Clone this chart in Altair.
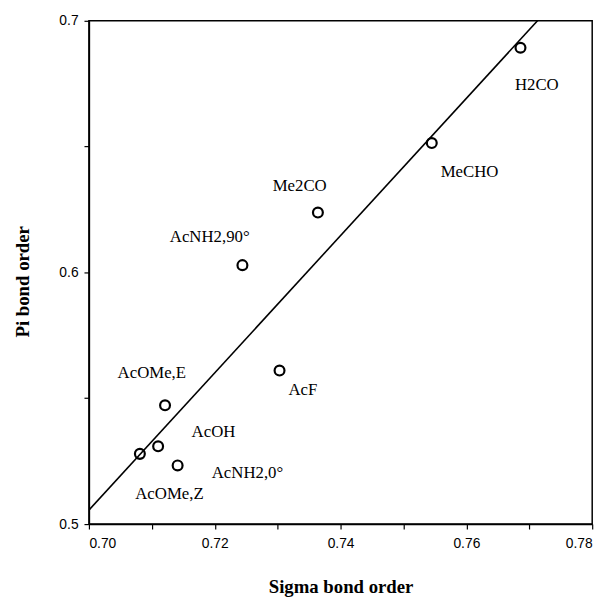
import altair as alt
import pandas as pd

names = ["H2CO", "MeCHO", "Me2CO", "AcNH2,90°", "AcF", "AcOMe,E", "AcOH", "AcOMe,Z", "AcNH2,0°"]
sigma = [0.7686, 0.7545, 0.7364, 0.7244, 0.7303, 0.7121, 0.7110, 0.7081, 0.7141]
pi = [0.6893, 0.6514, 0.6238, 0.6029, 0.5610, 0.5472, 0.5309, 0.5279, 0.5233]
label_x = [0.7712, 0.7605, 0.7335, 0.7192, 0.7340, 0.7100, 0.7198, 0.7128, 0.7252]
label_y = [0.6746, 0.6399, 0.6344, 0.6140, 0.5532, 0.5600, 0.5367, 0.5118, 0.5204]

x_ticks = [0.70, 0.71, 0.72, 0.73, 0.74, 0.75, 0.76, 0.77, 0.78]
y_ticks = [0.5, 0.55, 0.6, 0.65, 0.7]

df = pd.DataFrame({"name": names, "sigma": sigma, "pi": pi, "lx": label_x, "ly": label_y})

xscale = alt.Scale(domain=[0.70, 0.78], nice=False, zero=False)
yscale = alt.Scale(domain=[0.5, 0.7], nice=False, zero=False)

xaxis = alt.Axis(
    values=x_ticks,
    labelExpr="round(datum.value*100) % 2 == 0 ? format(datum.value, '.2f') : ''",
    title="Sigma bond order",
    titleX=255, titleY=63, titleBaseline="middle", titleAlign="center",
    labelPadding=8,
)
yaxis = alt.Axis(
    values=y_ticks,
    labelExpr="abs(datum.value*10 - round(datum.value*10)) < 0.001 ? format(datum.value, '.1f') : ''",
    title="Pi bond order",
    titleX=-67, titleY=264, titleBaseline="middle", titleAlign="center", titleAngle=270,
    labelPadding=6,
)

base = alt.Chart(df)

points = base.mark_point(shape="circle", filled=False, color="black", size=100, strokeWidth=2.2, opacity=1).encode(
    x=alt.X("sigma:Q", scale=xscale, axis=xaxis),
    y=alt.Y("pi:Q", scale=yscale, axis=yaxis),
)

line = base.transform_regression("sigma", "pi", extent=[0.70, 0.78]).mark_line(
    clip=True, color="black", strokeWidth=1.6
).encode(
    x=alt.X("sigma:Q", scale=xscale),
    y=alt.Y("pi:Q", scale=yscale),
)

labels = base.mark_text(font="Liberation Serif", fontSize=17, color="black", align="center", baseline="middle").encode(
    x=alt.X("lx:Q", scale=xscale),
    y=alt.Y("ly:Q", scale=yscale),
    text="name:N",
)

chart = alt.layer(line, points, labels).properties(
    width=510, height=510,
    autosize=alt.AutoSizeParams(type="none"),
    padding={"left": 82, "top": 9, "right": 15, "bottom": 76},
    background="white",
).configure_view(
    stroke="black", strokeWidth=1.5
).configure_axis(
    domainColor="black", domainWidth=1.5, tickColor="black", tickSize=5, tickWidth=1.2,
    grid=False,
    labelFont="Liberation Sans", labelFontSize=14, labelColor="black",
    titleFont="Liberation Serif", titleFontSize=19, titleFontWeight="bold", titleColor="black",
)

chart.save("out.html", embed_options={"renderer": "svg", "actions": False})
